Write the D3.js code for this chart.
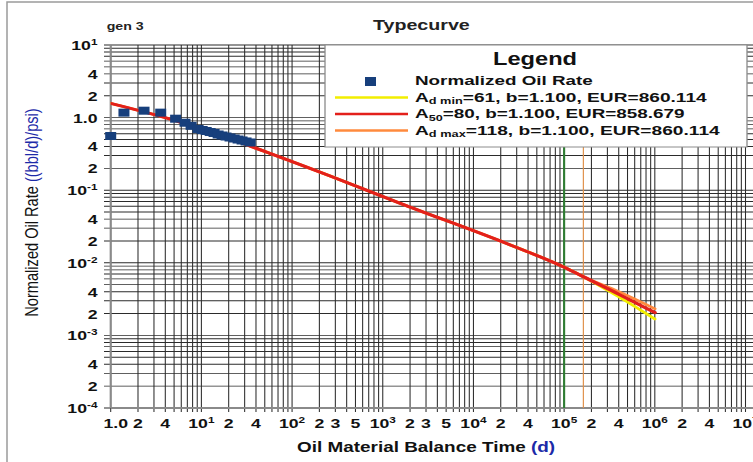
<!DOCTYPE html>
<html><head><meta charset="utf-8">
<script src="https://cdn.jsdelivr.net/npm/d3@7"></script>
<style>
body{margin:0;background:#fff;}
svg{display:block;font-family:"Liberation Sans",Arial,sans-serif;}
</style>
</head><body>
<svg id="c" width="753" height="462"></svg>
<script>
// ---------------- data ----------------
const scatterT = [1.0, 1.4, 2.33, 3.56, 5.2, 6.6, 7.7, 9.2, 10.2, 11.3, 12.5, 13.8, 15.3, 16.9, 18.7, 20.7, 23.0, 25.4, 28.1, 31.1, 34.5];
const scatterQ = [0.558, 1.17, 1.245, 1.17, 0.966, 0.85, 0.77, 0.697, 0.675, 0.654, 0.633, 0.614, 0.585, 0.567, 0.549, 0.532, 0.515, 0.499, 0.484, 0.469, 0.454];

const curveT   = [1, 5.8, 16.2, 57, 263, 1560, 25500, 100000, 160000, 400000, 1000000];
const curveMin = [1.57, 0.87, 0.567, 0.322, 0.157, 0.066, 0.0176, 0.0087, 0.0065, 0.0034, 0.00168];
const curve50  = [1.57, 0.87, 0.567, 0.322, 0.157, 0.066, 0.0176, 0.0087, 0.0065, 0.0037, 0.00206];
const curveMax = [1.57, 0.87, 0.567, 0.322, 0.157, 0.066, 0.0176, 0.0087, 0.0065, 0.0040, 0.00233];

const markerT = [100000, 163000]; // green and orange vertical markers

const xTickValues = [1,2,4,10,20,40,100,200,300,500,1000,2000,3000,5000,1e4,2e4,4e4,1e5,2e5,4e5,1e6,2e6,4e6,1e7];
const xTickBase = ["1.0","2","4","10","2","4","10","2","3","5","10","2","3","5","10","2","4","10","2","4","10","2","4","10"];
const xTickSup  = ["","","","1","","","2","","","","3","","","","4","","","5","","","6","","","7"];

const yTickValues = [10,4,2,1,0.4,0.2,0.1,0.04,0.02,0.01,0.004,0.002,0.001,0.0004,0.0002,0.0001];
const yTickBase = ["10","4","2","1.0","4","2","10","4","2","10","4","2","10","4","2","10"];
const yTickSup  = ["1","","","","","","-1","","","-2","","","-3","","","-4"];

const legendMain = ["A","A","A"];
const legendSub  = ["d min","50","d max"];
const legendRest = ["=61, b=1.100, EUR=860.114","=80, b=1.100, EUR=858.679","=118, b=1.100, EUR=860.114"];
const legendColors = ["#f2ee00","#e3201b","#ff8a3d"];

// ---------------- layout ----------------
const SX = 1.31; // horizontal stretch of the whole picture
const W = 753, H = 462;
const L = 110.7, R = 745.5, T = 45, B = 408;

const svg = d3.select("#c");
svg.append("rect").attr("x",7).attr("y",2).attr("width",800).attr("height",520)
  .attr("fill","none").attr("stroke","#9a9a9a").attr("stroke-width",1.5);

const g = svg.append("g").attr("transform",`scale(${SX},1)`);
const X = px => px / SX;

const x = d3.scaleLog().domain([1,1e7]).range([X(L), X(R)]);
const y = d3.scaleLog().domain([10,1e-4]).range([T,B]);

function fit(sel, targetPx){
  const w = sel.node().getBBox().width;
  const x0 = +sel.attr("x");
  const k = (targetPx / SX) / w;
  sel.attr("transform", `translate(${x0},0) scale(${k},1) translate(${-x0},0)`);
}

// ---------------- grid ----------------
const xGrid = [];
for (let k = 0; k <= 6; k++) for (let m = 1; m <= 9; m++) xGrid.push(m * Math.pow(10,k));
xGrid.push(1e7);
const yGrid = [];
for (let k = -4; k <= 0; k++) for (let m = 1; m <= 9; m++) yGrid.push(m * Math.pow(10,k));
yGrid.push(10);

const grid = g.append("g");
grid.selectAll("line.h").data(yGrid).join("line").attr("class","h")
  .attr("x1", X(104)).attr("x2", X(W+5))
  .attr("y1", d => y(d)).attr("y2", d => y(d))
  .attr("stroke","#2b2b2b").attr("stroke-width",0.9);
grid.selectAll("line.v").data(xGrid).join("line").attr("class","v")
  .attr("x1", d => x(d)).attr("x2", d => x(d))
  .attr("y1", T).attr("y2", B + 4)
  .attr("stroke","#2b2b2b").attr("stroke-width",0.8);

// axis lines
g.append("line").attr("x1",x(1)).attr("x2",x(1)).attr("y1",T).attr("y2",B)
  .attr("stroke","#8a8a8a").attr("stroke-width",1.6);
g.append("line").attr("x1",X(L)).attr("x2",X(W+5)).attr("y1",B).attr("y2",B)
  .attr("stroke","#8a8a8a").attr("stroke-width",2);

// markers
g.append("line").attr("x1",x(markerT[0])).attr("x2",x(markerT[0])).attr("y1",T).attr("y2",B)
  .attr("stroke","#2e7d32").attr("stroke-width",1.6);
g.append("line").attr("x1",x(markerT[1])).attr("x2",x(markerT[1])).attr("y1",T).attr("y2",B)
  .attr("stroke","#e0904a").attr("stroke-width",0.9);

// ---------------- tick labels ----------------
const xl = g.append("g").attr("font-weight","bold").attr("font-size",13.5).attr("fill","#111");
xTickValues.forEach((v,i) => {
  const t = xl.append("text").attr("x", x(v) + (i===0 ? X(5) : 0)).attr("y", 428).attr("text-anchor","middle");
  t.append("tspan").text(xTickBase[i]);
  if (xTickSup[i]) t.append("tspan").attr("font-size",9).attr("dy",-5).text(xTickSup[i]);
});
const yl = g.append("g").attr("font-weight","bold").attr("font-size",13.5).attr("fill","#111");
yTickValues.forEach((v,i) => {
  const t = yl.append("text").attr("x", X(97.5)).attr("y", y(v) + 5).attr("text-anchor","end");
  t.append("tspan").text(yTickBase[i]);
  if (yTickSup[i]) t.append("tspan").attr("font-size",9).attr("dy",-5).text(yTickSup[i]);
});

// ---------------- titles ----------------
const gen = g.append("text").attr("x",X(106.7)).attr("y",30).attr("font-size",11).attr("font-weight","bold").attr("fill","#222").text("gen 3");
fit(gen, 37);
g.append("text").attr("x",X(373)).attr("y",30).attr("font-size",15).attr("font-weight","bold").attr("fill","#222").text("Typecurve");

const xt = g.append("text").attr("x",X(297)).attr("y",452).attr("font-size",14.5).attr("font-weight","bold").attr("fill","#111");
xt.append("tspan").text("Oil Material Balance Time ");
xt.append("tspan").attr("fill","#1c2aa8").text("(d)");
fit(xt, 258);

const yt = g.append("text").attr("transform",`translate(${X(38)},212.5) rotate(-90)`)
  .attr("text-anchor","middle").attr("font-size",14.6).attr("fill","#111");
yt.append("tspan").text("Normalized Oil Rate ");
yt.append("tspan").attr("fill","#1c2aa8").text("((bbl/d)/psi)");

// ---------------- curves ----------------
const clip = svg.append("clipPath").attr("id","pc");
clip.append("rect").attr("x",X(L)).attr("y",T).attr("width",X(W)-X(L)).attr("height",B-T);
const line = d3.line().x(d => x(d[0])).y(d => y(d[1])).curve(d3.curveMonotoneX);
const curves = [[curveMin,legendColors[0],2.6],[curveMax,legendColors[2],2.6],[curve50,legendColors[1],3]];
const cg = g.append("g").attr("clip-path","url(#pc)");
curves.forEach(([vals,col,w]) => {
  cg.append("path").attr("d", line(curveT.map((t,i)=>[t,vals[i]])))
    .attr("fill","none").attr("stroke",col).attr("stroke-width",w).attr("stroke-linecap","round");
});

// ---------------- scatter ----------------
const sqW = X(11), sqH = 8;
g.append("g").selectAll("rect").data(scatterT.map((t,i)=>[t,scatterQ[i]])).join("rect")
  .attr("x", d => x(d[0]) - sqW/2).attr("y", d => y(d[1]) - sqH/2)
  .attr("width", sqW).attr("height", sqH).attr("fill","#173f7c");

// ---------------- legend ----------------
const lg = g.append("g");
lg.append("rect").attr("x",X(325)).attr("y",T).attr("width",X(747)-X(325)).attr("height",102)
  .attr("fill","#fff").attr("stroke","#8c8c8c").attr("stroke-width",1);
const lt = lg.append("text").attr("x",X(535)).attr("y",65).attr("text-anchor","middle")
  .attr("font-size",17.5).attr("font-weight","bold").attr("fill","#111").text("Legend");
fit(lt, 84);
lg.append("rect").attr("x",X(365)).attr("y",77).attr("width",X(11)).attr("height",9).attr("fill","#173f7c");
const n0 = lg.append("text").attr("x",X(415)).attr("y",85).attr("font-size",13.5).attr("font-weight","bold").attr("fill","#111").text("Normalized Oil Rate");
fit(n0, 178);
const rowY = [102, 118.5, 135];
const rowW = [292, 270, 305];
legendRest.forEach((s,i) => {
  lg.append("line").attr("x1",X(335)).attr("x2",X(408)).attr("y1",rowY[i]-4.5).attr("y2",rowY[i]-4.5)
    .attr("stroke",legendColors[i]).attr("stroke-width",2.6);
  const t = lg.append("text").attr("x",X(415)).attr("y",rowY[i]).attr("font-size",13.5).attr("font-weight","bold").attr("fill","#111");
  t.append("tspan").text(legendMain[i]);
  t.append("tspan").attr("font-size",9).attr("dy",2.5).text(legendSub[i]);
  t.append("tspan").attr("dy",-2.5).text(s);
  fit(t, rowW[i]);
});
</script>
</body></html>
